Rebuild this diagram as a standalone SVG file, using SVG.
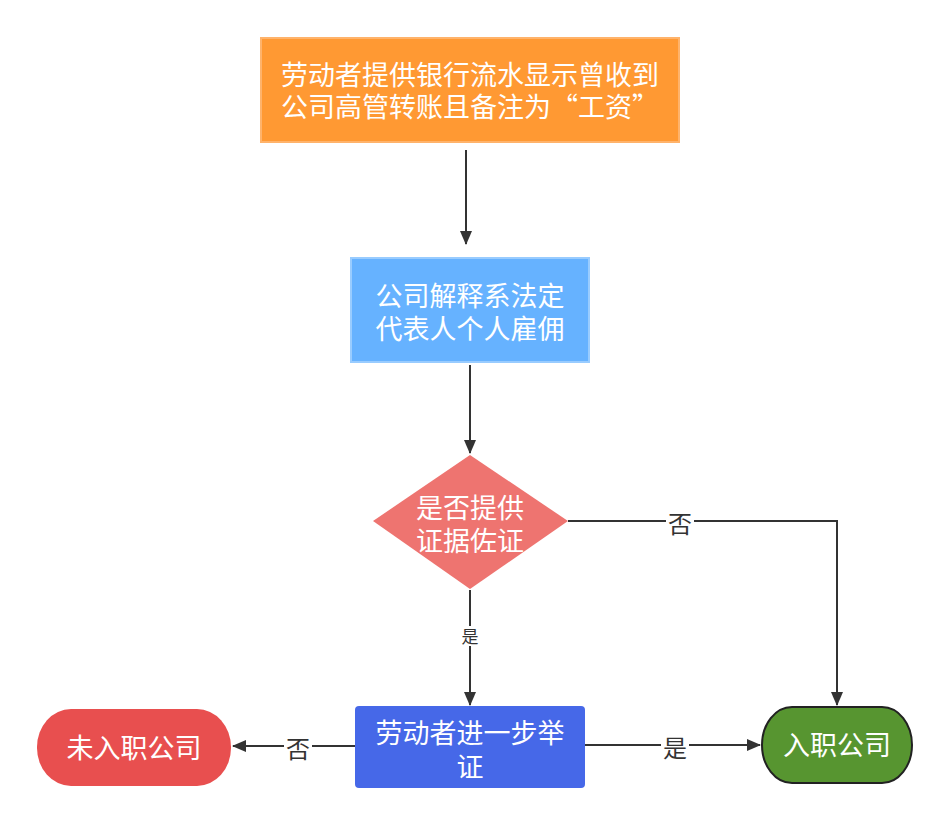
<svg xmlns="http://www.w3.org/2000/svg" width="949" height="825" viewBox="0 0 949 825">
<defs>
<marker id="arr" viewBox="0 0 14 12" refX="13" refY="6" markerWidth="14" markerHeight="12" markerUnits="userSpaceOnUse" orient="auto">
<path d="M0,0 L14,6 L0,12 Z" fill="#333333"/>
</marker>
<style>
.t{font-family:"Noto Sans CJK SC","Liberation Sans",sans-serif;fill:#ffffff;font-size:27px;text-anchor:middle;}
.l{font-family:"Noto Sans CJK SC","Liberation Sans",sans-serif;fill:#333333;font-size:24px;text-anchor:middle;}
.c{fill:none;stroke:#333333;stroke-width:2;}
</style>
</defs>
<rect width="949" height="825" fill="#ffffff"/>
<g id="connectors">
<path class="c" d="M466,150 L466,244" marker-end="url(#arr)"/>
<path class="c" d="M470,365 L470,453" marker-end="url(#arr)"/>
<path class="c" d="M568,521 L837,521 L837,705" marker-end="url(#arr)"/>
<path class="c" d="M470,590 L470,705" marker-end="url(#arr)"/>
<path class="c" d="M355,746 L233,746" marker-end="url(#arr)"/>
<path class="c" d="M585,745 L760,745" marker-end="url(#arr)"/>
<rect x="666" y="509" width="28" height="28" fill="#ffffff"/>
<text class="l" x="680" y="533">否</text>
<rect x="460" y="626" width="20" height="20" fill="#ffffff"/>
<text class="l" x="470" y="643" style="font-size:17px">是</text>
<rect x="284" y="734" width="28" height="28" fill="#ffffff"/>
<text class="l" x="298" y="758">否</text>
<rect x="661" y="733" width="28" height="28" fill="#ffffff"/>
<text class="l" x="675" y="757">是</text>
</g>
<g id="n1">
<rect x="261" y="38" width="418" height="104" fill="#FF9933" stroke="#FFB36B" stroke-width="2"/>
<text class="t" x="470" y="85">劳动者提供银行流水显示曾收到</text>
<text class="t" x="470" y="117">公司高管转账且备注为“工资”</text>
</g>
<g id="n2">
<rect x="351" y="258" width="238" height="104" fill="#66B2FF" stroke="#99CCFF" stroke-width="2"/>
<text class="t" x="470" y="306">公司解释系法定</text>
<text class="t" x="470" y="339">代表人个人雇佣</text>
</g>
<g id="n3">
<polygon points="470,455 568,521 470,589 373,521" fill="#EE7470"/>
<text class="t" x="470" y="518">是否提供</text>
<text class="t" x="470" y="551">证据佐证</text>
</g>
<g id="n4">
<rect x="355" y="706" width="230" height="82" rx="4" fill="#4668E8"/>
<text class="t" x="470" y="743">劳动者进一步举</text>
<text class="t" x="470" y="777">证</text>
</g>
<g id="n5">
<rect x="37" y="709" width="194" height="77" rx="34" ry="38" fill="#E84F4F"/>
<text class="t" x="134" y="758">未入职公司</text>
</g>
<g id="n6">
<rect x="762" y="707" width="150" height="76" rx="30" ry="38" fill="#579530" stroke="#222222" stroke-width="2"/>
<text class="t" x="837" y="755">入职公司</text>
</g>
</svg>
